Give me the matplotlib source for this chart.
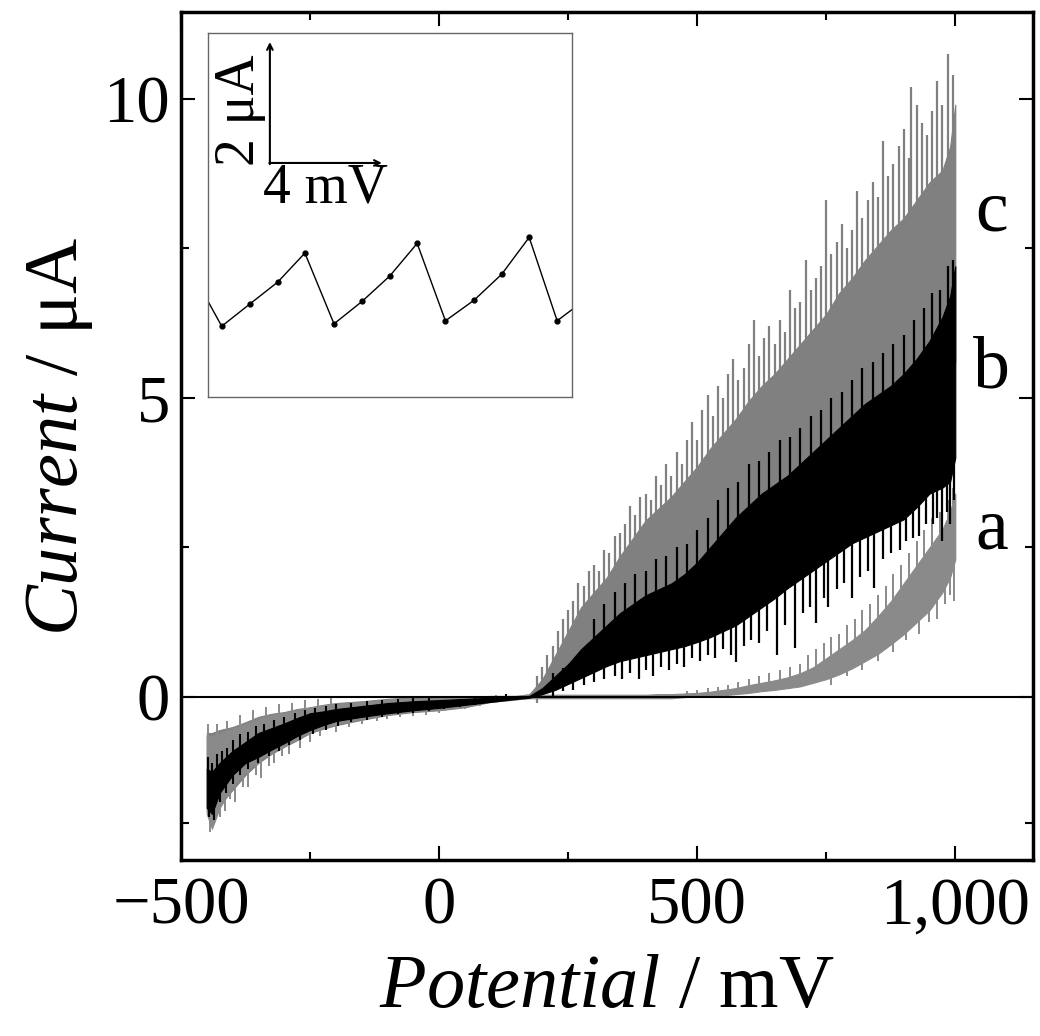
import numpy as np
import matplotlib
matplotlib.use("Agg")
import matplotlib.pyplot as plt

plt.rcParams['font.family'] = ['Liberation Serif', 'DejaVu Serif']
plt.rcParams['mathtext.fontset'] = 'custom'
plt.rcParams['mathtext.rm'] = 'Liberation Serif'
plt.rcParams['mathtext.it'] = 'Liberation Serif:italic'

# potential grid (mV) and current envelopes (uA)
potential = [-450, -440, -425, -400, -375, -350, -325, -300, -275, -250, -225, -200,
             -150, -100, -50, 0, 50, 100, 150, 175,
             200, 225, 250, 275, 300, 325, 350, 375, 400, 425, 450, 475, 500, 525,
             550, 575, 600, 625, 650, 675, 700, 725, 750, 775, 800, 825, 850, 875,
             900, 925, 950, 975, 990, 1000]

# trace c (grey, top)
c_hi = [-0.6, -0.6, -0.55, -0.5, -0.42, -0.33, -0.28, -0.25, -0.2, -0.17, -0.13, -0.1,
        -0.07, -0.03, 0.0, 0.0, 0.0, 0.02, 0.02, 0.05,
        0.3, 0.7, 1.1, 1.5, 1.75, 2.0, 2.35, 2.65, 2.95, 3.15, 3.35, 3.6, 3.85, 4.15,
        4.4, 4.65, 4.95, 5.2, 5.4, 5.65, 5.9, 6.15, 6.4, 6.75, 7.0, 7.3, 7.55, 7.8,
        8.0, 8.3, 8.6, 8.8, 9.2, 9.9]
c_lo = [-1.9, -2.1, -1.8, -1.55, -1.3, -1.1, -0.95, -0.83, -0.72, -0.6, -0.53, -0.47,
        -0.38, -0.3, -0.25, -0.22, -0.17, -0.08, -0.04, -0.01,
        0.1, 0.2, 0.35, 0.5, 0.65, 0.8, 0.95, 1.05, 1.15, 1.25, 1.35, 1.45, 1.6, 1.8,
        2.0, 2.2, 2.4, 2.55, 2.7, 2.85, 3.0, 3.2, 3.4, 3.55, 3.75, 3.9, 4.05, 4.2,
        4.35, 4.55, 4.8, 5.1, 5.4, 5.6]
c_spike_x = [190, 200, 210, 220, 230, 240, 250, 260, 270, 280, 290, 300, 310, 320, 330,
             340, 350, 360, 370, 380, 390, 400, 410, 420, 430, 440, 450, 460, 470, 480,
             490, 500, 510, 520, 530, 540, 550, 560, 570, 580, 590, 600, 610, 620, 630,
             640, 650, 660, 670, 680, 690, 700, 710, 720, 730, 740, 750, 760, 770, 780,
             790, 800, 810, 820, 830, 840, 850, 860, 870, 880, 890, 900, 910, 915, 925,
             935, 945, 955, 965, 975, 985, 995]
c_spike_y = [0.35, 0.5, 0.7, 0.85, 1.1, 1.3, 1.45, 1.6, 1.9, 1.85, 2.1, 2.2, 2.1, 2.45, 2.4,
             2.7, 2.75, 2.9, 3.2, 3.05, 3.35, 3.4, 3.3, 3.7, 3.55, 3.9, 3.7, 4.1, 3.9, 4.3,
             4.6, 4.3, 4.8, 5.05, 4.7, 5.2, 5.0, 5.4, 5.65, 5.3, 5.5, 5.9, 6.3, 5.7, 6.0,
             6.2, 5.9, 6.3, 6.1, 6.8, 6.5, 6.6, 7.3, 6.8, 7.0, 7.2, 8.3, 7.4, 7.6, 7.9,
             7.5, 7.8, 8.45, 8.0, 8.3, 8.6, 8.35, 9.3, 8.7, 8.9, 9.2, 9.5, 9.0, 10.2, 9.9,
             9.6, 9.4, 9.8, 10.3, 9.9, 10.75, 10.4]

# trace b (black, middle)
b_hi = [-1.2, -1.25, -1.1, -0.9, -0.75, -0.6, -0.52, -0.44, -0.35, -0.27, -0.24, -0.2,
        -0.15, -0.1, -0.07, -0.05, -0.03, -0.01, 0.0, 0.02,
        0.15, 0.35, 0.55, 0.8, 1.0, 1.2, 1.4, 1.55, 1.7, 1.8, 1.9, 2.05, 2.25, 2.5,
        2.75, 3.0, 3.2, 3.4, 3.55, 3.7, 3.9, 4.1, 4.3, 4.5, 4.7, 4.9, 5.05, 5.2,
        5.4, 5.65, 5.95, 6.35, 6.7, 7.2]
b_lo = [-1.85, -1.95, -1.6, -1.3, -1.1, -1.0, -0.88, -0.77, -0.65, -0.55, -0.47, -0.4,
        -0.33, -0.27, -0.22, -0.18, -0.13, -0.08, -0.03, -0.01,
        0.05, 0.12, 0.22, 0.32, 0.42, 0.52, 0.6, 0.65, 0.7, 0.75, 0.8, 0.85, 0.92, 1.0,
        1.1, 1.2, 1.35, 1.5, 1.65, 1.82, 1.97, 2.12, 2.27, 2.42, 2.57, 2.67, 2.77, 2.87,
        2.97, 3.17, 3.4, 3.5, 3.6, 4.0]
b_up_x = [300, 320, 340, 360, 380, 400, 420, 440, 460, 480, 500, 520, 540, 560, 580,
          600, 620, 640, 660, 680, 700, 720, 740, 760, 780, 800, 820, 840, 860, 880,
          900, 920, 940, 955, 970, 985, 995]
b_up_y = [1.3, 1.55, 1.75, 1.9, 2.05, 2.1, 2.3, 2.35, 2.5, 2.55, 2.8, 3.0, 3.3, 3.5, 3.6,
          3.9, 3.95, 4.1, 4.3, 4.35, 4.5, 4.7, 4.8, 5.0, 5.1, 5.3, 5.5, 5.6, 5.75, 5.9,
          6.05, 6.3, 6.5, 6.75, 6.8, 7.2, 7.3]
b_dn_x = [220, 240, 260, 280, 300, 320, 340, 355, 370, 387, 400, 415, 430, 445, 460,
          475, 490, 505, 520, 535, 550, 565, 576, 590, 605, 620, 635, 654, 670, 689,
          705, 718, 731, 745, 753, 770, 785, 799, 815, 830, 843, 860, 875, 892, 905,
          918, 930, 943, 956, 965, 975, 983, 990, 997]
b_dn_y = [0.0, 0.1, 0.12, 0.2, 0.25, 0.3, 0.35, 0.3, 0.4, 0.31, 0.45, 0.35, 0.5, 0.45, 0.55,
          0.5, 0.65, 0.6, 0.7, 0.65, 0.8, 0.7, 0.58, 0.85, 0.95, 0.9, 1.1, 0.7, 1.2, 0.82,
          1.4, 1.5, 1.23, 1.65, 1.5, 1.8, 1.9, 1.65, 2.0, 2.1, 1.82, 2.3, 2.4, 2.45, 2.6,
          2.65, 2.7, 2.9, 2.9, 3.0, 2.6, 3.1, 2.9, 3.3]

# trace a (grey, bottom)
a_hi = [-0.65, -0.65, -0.6, -0.52, -0.45, -0.36, -0.3, -0.26, -0.22, -0.18, -0.14, -0.11,
        -0.08, -0.04, -0.01, 0.0, 0.0, 0.01, 0.02, 0.03,
        0.04, 0.04, 0.04, 0.04, 0.04, 0.04, 0.04, 0.04, 0.04, 0.05, 0.05, 0.06, 0.07, 0.09,
        0.12, 0.15, 0.2, 0.24, 0.28, 0.33, 0.4, 0.5, 0.65, 0.8, 0.95, 1.12, 1.35, 1.6,
        1.9, 2.2, 2.5, 2.8, 3.1, 3.4]
a_lo = [-1.95, -2.2, -1.85, -1.5, -1.25, -1.05, -0.92, -0.8, -0.7, -0.58, -0.5, -0.45,
        -0.36, -0.28, -0.23, -0.2, -0.15, -0.07, -0.03, -0.02,
        -0.02, -0.02, -0.02, -0.02, -0.02, -0.02, -0.02, -0.02, -0.02, -0.02, -0.02, 0.0,
        0.01, 0.02, 0.03, 0.05, 0.07, 0.1, 0.12, 0.15, 0.18, 0.24, 0.3, 0.38, 0.48, 0.6,
        0.72, 0.88, 1.05, 1.25, 1.45, 1.75, 2.0, 2.3]
a_up_x = [480, 500, 520, 540, 560, 580, 600, 620, 640, 660, 680, 700, 715, 730, 745,
          760, 775, 790, 805, 820, 835, 850, 865, 880, 895, 910, 925, 940, 955, 970,
          985, 995]
a_up_y = [0.1, 0.12, 0.15, 0.17, 0.2, 0.25, 0.3, 0.35, 0.4, 0.45, 0.5, 0.55, 0.7, 0.8, 0.9,
          1.0, 1.05, 1.2, 1.3, 1.45, 1.55, 1.7, 1.85, 2.05, 2.2, 2.4, 2.6, 2.8, 3.0, 3.1,
          3.3, 3.5]
a_dn_x = [760, 790, 820, 850, 880, 905, 930, 950, 965, 980, 990, 998]
a_dn_y = [0.2, 0.35, 0.45, 0.6, 0.75, 0.95, 1.05, 1.25, 1.3, 1.55, 1.7, 1.6]

# negative branch noise (grey bottom edge, black top and bottom edges)
neg_dn_x = [-443, -435, -425, -415, -405, -395, -380, -370, -355, -345, -330, -320, -305,
            -290, -270, -250, -230, -200, -175, -150, -120, -100, -75, -50, -25, 0, 25,
            50, 80, 110]
neg_dn_y = [-2.25, -1.95, -2.0, -1.9, -1.7, -1.75, -1.5, -1.5, -1.3, -1.35, -1.15, -1.1,
            -0.98, -0.95, -0.85, -0.75, -0.65, -0.58, -0.5, -0.45, -0.4, -0.37, -0.33,
            -0.32, -0.3, -0.27, -0.22, -0.2, -0.15, -0.1]
neg_up_x = [-448, -430, -410, -385, -360, -335, -310, -285, -260, -235, -210]
neg_up_y = [-0.45, -0.45, -0.4, -0.3, -0.22, -0.17, -0.12, -0.1, -0.05, -0.04, -0.02]
bneg_up_x = [-448, -440, -430, -420, -410, -400, -385, -370, -355, -340, -320, -300, -280,
             -260, -240, -220, -200, -170, -140, -110, -80, -50, -20]
bneg_up_y = [-1.0, -1.1, -0.95, -0.9, -0.85, -0.72, -0.62, -0.58, -0.48, -0.45, -0.38,
             -0.33, -0.27, -0.22, -0.18, -0.15, -0.12, -0.1, -0.07, -0.05, -0.03, -0.02, 0.0]
bneg_dn_x = [-445, -436, -425, -412, -400, -385, -370, -350, -330, -310, -290, -270, -245,
             -220, -195, -170, -140, -110, -80, -50, -20, 10, 40, 70, 100, 130]
bneg_dn_y = [-2.0, -2.05, -1.75, -1.6, -1.45, -1.3, -1.2, -1.1, -0.98, -0.9, -0.8, -0.72,
             -0.62, -0.55, -0.48, -0.42, -0.38, -0.33, -0.29, -0.26, -0.23, -0.2, -0.16,
             -0.13, -0.1, -0.06]

# inset sawtooth (relative mV, uA)
inset_x = [-0.52, 0.49, 1.5, 2.49, 3.46, 4.5, 5.5, 6.49, 7.47, 8.48, 9.5, 10.49, 11.47, 12.47, 13.5]
inset_y = [2.02, 1.17, 1.54, 1.90, 2.38, 1.21, 1.58, 2.0, 2.54, 1.26, 1.60, 2.03, 2.64, 1.26, 1.62]

x_ticks = [-500, 0, 500, 1000]
x_tick_labels = ['\u2212500', '0', '500', '1,000']
y_ticks = [0, 5, 10]
y_tick_labels = ['0', '5', '10']

grey_c = '#808080'
grey_a = '#8a8a8a'

fig = plt.figure(figsize=(10.4, 10.36), dpi=100)
ax = fig.add_axes([0.174, 0.170, 0.819, 0.818])

pot = np.array(potential)


def band(hi, lo, color, z):
    ax.fill_between(pot, lo, hi, color=color, lw=0.8, edgecolor=color, zorder=z)


def spikes_up(xs, ys, env, color, z, lw=1.6, off=0.3):
    base = np.interp(xs, pot, env) - off
    ax.vlines(xs, base, ys, color=color, lw=lw, zorder=z)


def spikes_down(xs, ys, env, color, z, lw=1.6, off=0.3):
    top = np.interp(xs, pot, env) + off
    ax.vlines(xs, ys, top, color=color, lw=lw, zorder=z)


band(c_hi, c_lo, grey_c, 2)
spikes_up(c_spike_x, c_spike_y, c_hi, grey_c, 2)

band(a_hi, a_lo, grey_a, 3)
spikes_up(a_up_x, a_up_y, a_hi, grey_a, 3, lw=1.4, off=0.03)
spikes_down(a_dn_x, a_dn_y, a_lo, grey_a, 3, lw=1.4, off=0.05)
spikes_down(neg_dn_x, neg_dn_y, a_lo, grey_a, 3, lw=1.4, off=0.1)
spikes_up(neg_up_x, neg_up_y, a_hi, grey_a, 3, lw=1.4, off=0.1)

band(b_hi, b_lo, 'black', 4)
spikes_up(b_up_x, b_up_y, b_hi, 'black', 4)
spikes_down(b_dn_x, b_dn_y, b_lo, 'black', 4)
spikes_up(bneg_up_x, bneg_up_y, b_hi, 'black', 4, lw=1.5, off=0.1)
spikes_down(bneg_dn_x, bneg_dn_y, b_lo, 'black', 4, lw=1.5, off=0.1)

ax.axhline(0, color='black', lw=1.5, zorder=5)

ax.set_xlim(-500, 1150)
ax.set_ylim(-2.72, 11.44)
ax.set_xticks(x_ticks)
ax.set_xticklabels(x_tick_labels)
ax.set_xticks([-250, 250, 750], minor=True)
ax.set_yticks(y_ticks)
ax.set_yticklabels(y_tick_labels)
ax.set_yticks([-2.1, 2.5, 7.5], minor=True)
ax.tick_params(which='both', direction='in', top=True, right=True, width=1.5, labelsize=48)
ax.tick_params(which='major', length=10)
ax.tick_params(which='minor', length=6)
ax.tick_params(axis='x', pad=12)
ax.tick_params(axis='y', pad=8)
for s in ax.spines.values():
    s.set_linewidth(2.5)

ax.set_xlabel(r'$\mathit{Potential}$ / mV', fontsize=55, labelpad=12)
ax.set_ylabel(r'$\mathit{Current}$ / ' + '\u03bcA', fontsize=55, labelpad=6)

ax.text(1070, 7.8, 'c', fontsize=53, ha='center', va='baseline')
ax.text(1070, 5.18, 'b', fontsize=53, ha='center', va='baseline')
ax.text(1070, 2.49, 'a', fontsize=53, ha='center', va='baseline')

# inset
axi = fig.add_axes([0.2, 0.6168, 0.35, 0.3514])
axi.plot(inset_x, inset_y, color='black', lw=1, marker='o', ms=3.5)
axi.set_xlim(0, 13)
axi.set_ylim(0, 6.02)
axi.set_xticks([])
axi.set_yticks([])
for s in axi.spines.values():
    s.set_linewidth(1)
    s.set_color('#666666')
axi.annotate('', xy=(2.21, 5.87), xytext=(2.21, 3.85),
             arrowprops=dict(arrowstyle='->', lw=1.5, color='black', shrinkA=0, shrinkB=0))
axi.annotate('', xy=(6.21, 3.87), xytext=(2.19, 3.87),
             arrowprops=dict(arrowstyle='->', lw=1.5, color='black', shrinkA=0, shrinkB=0))
axi.text(1.14, 4.74, '2 \u03bcA', fontsize=40, rotation=90, ha='center', va='center')
axi.text(4.2, 3.45, '4 mV', fontsize=40, ha='center', va='center')

fig.savefig('out.png', dpi=100)
